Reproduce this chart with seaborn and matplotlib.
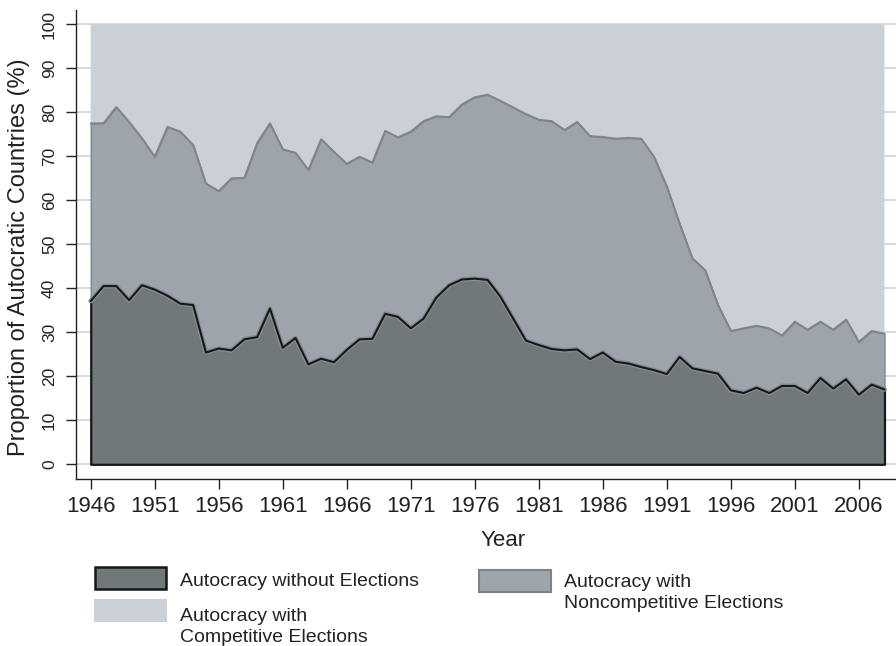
import numpy as np
import pandas as pd
import seaborn as sb
import matplotlib.pyplot as plt
from matplotlib.patches import Rectangle

# shares of autocratic countries by regime type (%)
years = list(range(1946, 2009))
no_elections = [37.1, 40.5, 40.5, 37.3, 40.7, 39.7, 38.3, 36.5, 36.2, 25.4,
                26.3, 25.9, 28.4, 28.9, 35.4, 26.5, 28.7, 22.7, 24.0, 23.2,
                26.0, 28.4, 28.5, 34.2, 33.5, 30.9, 33.1, 37.9, 40.7, 42.0,
                42.2, 41.9, 38.1, 33.1, 28.1, 27.1, 26.2, 25.9, 26.1, 23.9,
                25.4, 23.3, 22.9, 22.1, 21.4, 20.5, 24.4, 21.8, 21.2, 20.6,
                16.8, 16.2, 17.4, 16.2, 17.8, 17.8, 16.2, 19.6, 17.2, 19.3,
                15.8, 18.1, 17.0]
noncompetitive = [40.4, 37.0, 40.7, 40.5, 33.4, 30.2, 38.4, 39.1, 36.4, 38.4,
                  35.8, 39.1, 36.7, 44.1, 42.1, 45.1, 42.1, 44.2, 49.9, 47.8,
                  42.3, 41.5, 40.1, 41.6, 40.8, 44.7, 44.9, 41.2, 38.2, 39.8,
                  41.2, 42.1, 44.5, 48.0, 51.5, 51.2, 51.8, 50.1, 51.7, 50.7,
                  49.0, 50.7, 51.3, 51.9, 48.5, 42.6, 30.3, 25.0, 22.9, 15.6,
                  13.5, 14.7, 14.1, 14.7, 11.5, 14.6, 14.4, 12.8, 13.4, 13.6,
                  12.0, 12.2, 12.7]
year_ticks = list(range(1946, 2007, 5))
pct_ticks = list(range(0, 101, 10))

df = pd.DataFrame({"year": years, "without": no_elections, "noncomp": noncompetitive})
df["upper"] = df["without"] + df["noncomp"]  # remainder up to 100 = competitive

dark = "#707879"
mid = "#9ea4ab"
light = "#cbcfd7"

sb.set_theme(style="white")
plt.rcParams["font.family"] = ["Liberation Sans", "DejaVu Sans"]

W, H = 896, 646
fig = plt.figure(figsize=(W / 100, H / 100), dpi=100)
ax = fig.add_axes([76 / W, 1 - 479 / H, 820 / W, 469 / H])

ax.fill_between(df["year"], df["upper"], 100, facecolor=light, edgecolor="none", zorder=1)
ax.fill_between(df["year"], df["without"], df["upper"], facecolor=mid, edgecolor="#80858a", lw=1.0, zorder=2)
ax.fill_between(df["year"], 0, df["without"], facecolor=dark, edgecolor="#151718", lw=1.6, zorder=3)
sb.lineplot(data=df, x="year", y="upper", color="#80858a", lw=1.4, ax=ax, zorder=4)
sb.lineplot(data=df, x="year", y="without", color="#878c91", lw=3.4, ax=ax, zorder=4)
sb.lineplot(data=df, x="year", y="without", color="#151718", lw=1.5, ax=ax, zorder=5)

ax.set_xlim(1944.85, 2008.9)
ax.set_ylim(-3.34, 103.25)
ax.set_xticks(year_ticks)
ax.set_yticks(pct_ticks)
ax.set_axisbelow(True)
ax.yaxis.grid(True, color="#d3d7dc", lw=1.3)
ax.xaxis.grid(False)
sb.despine(ax=ax)
for s in ["left", "bottom"]:
    ax.spines[s].set_color("#222222")
    ax.spines[s].set_linewidth(1.0)

ax.tick_params(axis="x", length=7.2, width=1.0, color="#222222", labelsize=16, pad=5, bottom=True)
ax.tick_params(axis="y", length=7.2, width=1.0, color="#222222", labelsize=12.5, pad=6.5, left=True)
plt.setp(ax.get_yticklabels(), rotation=90, va="center", ha="right", rotation_mode="default")
for lab in ax.get_xticklabels() + ax.get_yticklabels():
    lab.set_color("#222222")

ax.set_xlabel("Year", fontsize=16, color="#222222")
ax.xaxis.set_label_coords((503.5 - 76) / 820, -(546 - 479) / 469)
ax.xaxis.label.set_va("baseline")
ax.set_ylabel("Proportion of Autocratic Countries (%)", fontsize=17, color="#222222")
ax.yaxis.set_label_coords((19.5 - 76) / 820, (479 - 257.5) / 469)
ax.yaxis.label.set_va("center")

# legend drawn below the plot
def swatch(x0, y0, x1, y1, face, edge, lw):
    fig.add_artist(Rectangle((x0 / W, 1 - y1 / H), (x1 - x0) / W, (y1 - y0) / H,
                             facecolor=face, edgecolor=edge, lw=lw, transform=fig.transFigure))

def label(x, y, txt):
    fig.text(x / W, 1 - y / H, txt, fontsize=14, color="#222222", va="baseline", ha="left")

swatch(95, 567, 166, 589, dark, "#151718", 1.8)
swatch(94, 599, 167, 622, light, "none", 0)
swatch(479, 570, 551, 592, mid, "#7e8388", 1.5)
label(180, 586, "Autocracy without Elections")
label(180, 621, "Autocracy with")
label(180, 642, "Competitive Elections")
label(564, 587, "Autocracy with")
label(564, 608, "Noncompetitive Elections")

fig.savefig("out.png", dpi=100)
